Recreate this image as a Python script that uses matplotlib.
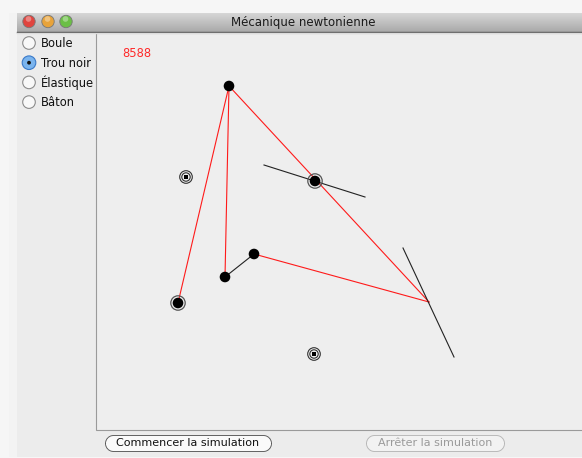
import matplotlib
matplotlib.use("Agg")
import matplotlib.pyplot as plt
from matplotlib.patches import Circle, Rectangle
from matplotlib.colors import LinearSegmentedColormap
import numpy as np

W, H = 582, 458

# ---- data ----
window_title = "Mécanique newtonienne"
radio_labels = ["Boule", "Trou noir", "Élastique", "Bâton"]
radio_selected = 1
counter_value = "8588"
button_labels = ["Commencer la simulation", "Arrêter la simulation"]
button_enabled = [True, False]

# balls (pixel coordinates of the simulation canvas)
ball_x = [229, 315, 178, 225, 254]
ball_y = [86, 181, 303, 277, 254]
ball_ringed = [False, True, True, False, False]

# black holes
hole_x = [186, 314]
hole_y = [177, 354]

# red elastics: (x0, y0, x1, y1)
elastic_x0 = [229, 229, 229, 254]
elastic_y0 = [86, 86, 86, 254]
elastic_x1 = [178, 225, 429, 429]
elastic_y1 = [303, 277, 302, 302]

# black rods
rod_x0 = [264, 403, 225]
rod_y0 = [165, 248, 277]
rod_x1 = [365, 454, 254]
rod_y1 = [197, 357, 254]

PX = 72 / 100  # points per pixel

# ---- figure ----
fig = plt.figure(figsize=(W / 100, H / 100), dpi=100)
fig.patch.set_facecolor("#f6f6f6")
ax = fig.add_axes([0, 0, 1, 1])
ax.axis("off")

# window background
ax.add_patch(Rectangle((9, 13), W - 9, 444, facecolor="#ececec", edgecolor="none", zorder=0))
ax.add_patch(Rectangle((9, 13), 8, 444, facecolor="#f3f3f3", edgecolor="none", zorder=0.5))

# title bar gradient
grad = np.linspace(0, 1, 50).reshape(-1, 1)
cmap = LinearSegmentedColormap.from_list("tb", ["#d6d6d6", "#a9a9a9"])
ax.imshow(grad, extent=(17, W, 32, 13), cmap=cmap, aspect="auto", zorder=1)
ax.plot([17, W], [32, 32], color="#555555", lw=1, zorder=2)
ax.plot([17, W], [33, 33], color="#dcdcdc", lw=1, zorder=2)
ax.set_xlim(0, W)
ax.set_ylim(H, 0)
ax.text(303, 22.5, window_title, ha="center", va="center", fontsize=8.5, color="#1a1a1a", zorder=3)

# traffic lights
for cx, col in zip([29, 48, 66], ["#e0443e", "#e8a33a", "#6bbf46"]):
    ax.add_patch(Circle((cx, 21.5), 6.2, facecolor=col, edgecolor="#777777", lw=0.6, zorder=3))
    ax.add_patch(Circle((cx - 0.5, 19), 2.8, facecolor="white", alpha=0.35, edgecolor="none", zorder=4))

# canvas
ax.add_patch(Rectangle((95.5, 33), W - 95, 397, facecolor="#eeeeee", edgecolor="#9a9a9a", lw=0.8, zorder=1))

# radio buttons
for i, lab in enumerate(radio_labels):
    y = 43 + i * 19.7
    if i == radio_selected:
        ax.add_patch(Circle((29, y), 6.8, facecolor="#7ab4ee", edgecolor="#3a79c8", lw=0.8, zorder=3))
        ax.add_patch(Circle((29, y), 1.9, facecolor="#111111", edgecolor="none", zorder=4))
    else:
        ax.add_patch(Circle((29, y), 6.3, facecolor="#f8f8f8", edgecolor="#8c8c8c", lw=0.8, zorder=3))
    ax.text(41, y + 0.5, lab, ha="left", va="center", fontsize=8.3, color="#111111", zorder=3)

# counter
ax.text(122, 53.5, counter_value, ha="left", va="center", fontsize=8.3, color="#ff2a2a", zorder=3)

# elastics
for x0, y0, x1, y1 in zip(elastic_x0, elastic_y0, elastic_x1, elastic_y1):
    ax.plot([x0, x1], [y0, y1], color="#ff1a1a", lw=0.8, zorder=4)

# rods
for x0, y0, x1, y1 in zip(rod_x0, rod_y0, rod_x1, rod_y1):
    ax.plot([x0, x1], [y0, y1], color="#222222", lw=0.8, zorder=4)

# black holes
for hx, hy in zip(hole_x, hole_y):
    ax.add_patch(Circle((hx, hy), 6.3, facecolor="none", edgecolor="#333333", lw=0.8, zorder=5))
    ax.add_patch(Circle((hx, hy), 4.2, facecolor="none", edgecolor="#333333", lw=0.8, zorder=5))
    ax.add_patch(Rectangle((hx - 2, hy - 2), 4, 4, facecolor="black", edgecolor="none", zorder=5))

# balls
for bx, by, rg in zip(ball_x, ball_y, ball_ringed):
    ax.add_patch(Circle((bx, by), 5.3, facecolor="black", edgecolor="none", zorder=6))
    if rg:
        ax.add_patch(Circle((bx, by), 7.2, facecolor="none", edgecolor="#555555", lw=0.9, zorder=6))

# buttons (pill shapes)
for (x0, x1), lab, en in zip([(105, 271), (366, 504)], button_labels, button_enabled):
    ax.plot([x0 + 8, x1 - 8], [443, 443], color="#555555" if en else "#b5b5b5",
            lw=17 * PX, solid_capstyle="round", zorder=3)
    ax.plot([x0 + 8, x1 - 8], [443, 443], color="#fafafa" if en else "#f2f2f2",
            lw=15.2 * PX, solid_capstyle="round", zorder=3.1)
    ax.text((x0 + x1) / 2, 443.5, lab, ha="center", va="center", fontsize=8.0,
            color="#111111" if en else "#9a9a9a", zorder=4)

fig.savefig("out.png", dpi=100, facecolor=fig.get_facecolor())
